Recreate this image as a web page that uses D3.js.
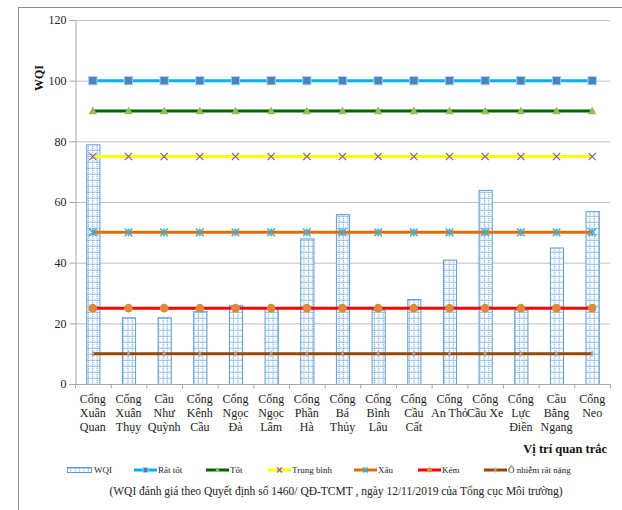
<!DOCTYPE html>
<html><head><meta charset="utf-8">
<script src="https://cdn.jsdelivr.net/npm/d3@7"></script>
<style>body{margin:0;background:#fff}</style>
</head><body><svg id="c" width="622" height="510" font-family="Liberation Serif"></svg>
<script>
const categories = [
  ["Cống","Xuân","Quan"],["Cống","Xuân","Thụy"],["Cầu","Như","Quỳnh"],["Cống","Kênh","Cầu"],
  ["Cống","Ngọc","Đà"],["Cống","Ngọc","Lâm"],["Cống","Phần","Hà"],["Cống","Bá","Thủy"],
  ["Cống","Bình","Lâu"],["Cống","Cầu","Cất"],["Cống","An Thỏ"],["Cống","Cầu Xe"],
  ["Cống","Lực","Điền"],["Cầu","Bằng","Ngang"],["Cống","Neo"]
];
const wqi = [79, 22, 22, 24, 26, 25, 48, 56, 24.5, 28, 41, 64, 24.5, 45, 57];
const thresholdNames = ["Rất tốt","Tốt","Trung bình","Xấu","Kém","Ô nhiễm rất nặng"];
const thresholdValues = [100, 90, 75, 50, 25, 10];
const yTicks = [0, 20, 40, 60, 80, 100, 120];

const styles = [
  {line:"#00b0f0", marker:"square", mfill:"#4f81bd", mstroke:"#9fd7f5"},
  {line:"#006400", marker:"triangle", mfill:"#9bbb59", mstroke:"#9bbb59"},
  {line:"#ffff00", marker:"x", mfill:"none", mstroke:"#8064a2"},
  {line:"#e46c0a", marker:"star", mfill:"none", mstroke:"#4bacc6"},
  {line:"#ff0000", marker:"circle", mfill:"#e0883a", mstroke:"#e0883a"},
  {line:"#974706", marker:"plus", mfill:"none", mstroke:"#a0a8c8"}
];
const FONT = "Liberation Serif";

const svg = d3.select("#c");
const defs = svg.append("defs");
const pat = defs.append("pattern").attr("id","grid").attr("patternUnits","userSpaceOnUse")
  .attr("width",4.4).attr("height",6);
pat.append("rect").attr("width",4.4).attr("height",6).attr("fill","#dbe9f7");
pat.append("rect").attr("x",1).attr("y",1).attr("width",2.8).attr("height",4.2).attr("fill","#fff");
pat.append("line").attr("x1",0).attr("x2",4.4).attr("y1",0.5).attr("y2",0.5).attr("stroke","#5b9bd5").attr("stroke-width",0.7).attr("stroke-dasharray","1,1");
pat.append("line").attr("x1",0.5).attr("x2",0.5).attr("y1",0).attr("y2",6).attr("stroke","#5b9bd5").attr("stroke-width",0.7).attr("stroke-dasharray","1,1");

// outer frame
svg.append("rect").attr("x",18.5).attr("y",7.5).attr("width",620).attr("height",520)
  .attr("fill","none").attr("stroke","#8c8c8c").attr("stroke-width",1);

const L = 75, R = 610, T = 20, B = 384;
const x = d3.scaleBand().domain(d3.range(categories.length)).range([L,R]).paddingInner(0.63).paddingOuter(0.315);
const xc = i => x(i) + x.bandwidth()/2;
const y = d3.scaleLinear().domain([0,120]).range([B,T]);

// gridlines
svg.append("g").selectAll("line").data(yTicks.filter(d=>d>0)).join("line")
  .attr("x1",L).attr("x2",R).attr("y1",d=>y(d)+0.5).attr("y2",d=>y(d)+0.5)
  .attr("stroke","#bfbfbf").attr("stroke-width",1);

// y axis
const ya = svg.append("g").attr("transform",`translate(${L+0.5},0)`)
  .call(d3.axisLeft(y).tickValues(yTicks).tickSize(6).tickPadding(3).tickFormat(d3.format("d")));
ya.attr("font-family",FONT).attr("font-size",12);
ya.select(".domain").attr("stroke","#a6a6a6");
ya.selectAll(".tick line").attr("stroke","#a6a6a6");
ya.selectAll("text").attr("fill","#222");

// bars
svg.append("g").selectAll("rect").data(wqi).join("rect")
  .attr("x",(d,i)=>x(i)+0.5).attr("y",d=>y(d)+0.5)
  .attr("width",x.bandwidth()).attr("height",d=>y(0)-y(d))
  .attr("fill","url(#grid)").attr("stroke","#5b9bd5").attr("stroke-width",1);

// x axis
const xa = svg.append("g").attr("transform",`translate(0,${B+0.5})`);
xa.append("line").attr("x1",L).attr("x2",R).attr("stroke","#a6a6a6");
xa.selectAll(".tk").data(d3.range(categories.length+1)).join("line").attr("class","tk")
  .attr("x1",i=>L+i*x.step()+0.5).attr("x2",i=>L+i*x.step()+0.5).attr("y1",0).attr("y2",4).attr("stroke","#a6a6a6");
const lab = svg.append("g").attr("font-family",FONT).selectAll("text").data(categories).join("text")
  .attr("text-anchor","middle").attr("font-size",12).attr("fill","#222");
lab.each(function(d,i){
  const t = d3.select(this);
  d.forEach((s,k)=>t.append("tspan").attr("x",xc(i)).attr("y",403+k*14).text(s));
});

// threshold lines
function marker(g, type, cx, cy, st, s){
  if(type==="square") g.append("rect").attr("x",cx-s).attr("y",cy-s).attr("width",2*s).attr("height",2*s).attr("fill",st.mfill).attr("stroke",st.mstroke).attr("stroke-width",1);
  else if(type==="triangle") g.append("path").attr("d",`M${cx},${cy-s*1.1}L${cx+s},${cy+s*0.8}L${cx-s},${cy+s*0.8}Z`).attr("fill",st.mfill);
  else if(type==="x") g.append("path").attr("d",`M${cx-s},${cy-s}L${cx+s},${cy+s}M${cx-s},${cy+s}L${cx+s},${cy-s}`).attr("stroke",st.mstroke).attr("stroke-width",1.3);
  else if(type==="star") g.append("path").attr("d",`M${cx-s},${cy-s}L${cx+s},${cy+s}M${cx-s},${cy+s}L${cx+s},${cy-s}M${cx},${cy-s}L${cx},${cy+s}`).attr("stroke",st.mstroke).attr("stroke-width",1.5);
  else if(type==="circle") g.append("circle").attr("cx",cx).attr("cy",cy).attr("r",s).attr("fill",st.mfill);
  else if(type==="plus") g.append("path").attr("d",`M${cx},${cy-s}L${cx},${cy+s}M${cx-s*0.5},${cy}L${cx+s*0.5},${cy}`).attr("stroke",st.mstroke).attr("stroke-width",1.3);
}
const sizes = [4.2, 4.2, 3.6, 3.8, 4.3, 3];
thresholdValues.forEach((v,j)=>{
  const st = styles[j];
  const g = svg.append("g");
  g.append("line").attr("x1",xc(0)).attr("x2",xc(categories.length-1)).attr("y1",y(v)).attr("y2",y(v))
    .attr("stroke",st.line).attr("stroke-width",3);
  categories.forEach((c,i)=>marker(g, st.marker, xc(i), y(v), st, sizes[j]));
});

// axis titles
svg.append("text").attr("transform","translate(43,78) rotate(-90)").attr("text-anchor","middle")
  .attr("font-family",FONT).attr("font-size",12).attr("font-weight","bold").attr("fill","#111").text("WQI");
svg.append("text").attr("x",607).attr("y",453).attr("text-anchor","end")
  .attr("font-family",FONT).attr("font-size",12.5).attr("font-weight","bold").attr("fill","#111").text("Vị trí quan trắc");

// legend
const lg = svg.append("g").attr("font-family",FONT);
lg.append("rect").attr("x",67.5).attr("y",467.5).attr("width",24).attr("height",5).attr("fill","url(#grid)").attr("stroke","#5b9bd5");
lg.append("text").attr("x",94).attr("y",473).attr("font-size",9).attr("fill","#222").text("WQI");
const legX = [134, 206, 268, 354, 418, 484];
thresholdNames.forEach((n,j)=>{
  const st = styles[j], x0 = legX[j];
  lg.append("line").attr("x1",x0).attr("x2",x0+23).attr("y1",470).attr("y2",470).attr("stroke",st.line).attr("stroke-width",3);
  marker(lg, st.marker, x0+11.5, 470, st, 2.5);
  lg.append("text").attr("x",x0+24).attr("y",473).attr("font-size",9).attr("fill","#222").text(n);
});

// caption
svg.append("text").attr("x",336).attr("y",495).attr("text-anchor","middle")
  .attr("font-family",FONT).attr("font-size",11.5).attr("fill","#222")
  .text("(WQI đánh giá theo Quyết định số 1460/ QĐ-TCMT , ngày 12/11/2019 của Tổng cục Môi trường)");
</script></body></html>
